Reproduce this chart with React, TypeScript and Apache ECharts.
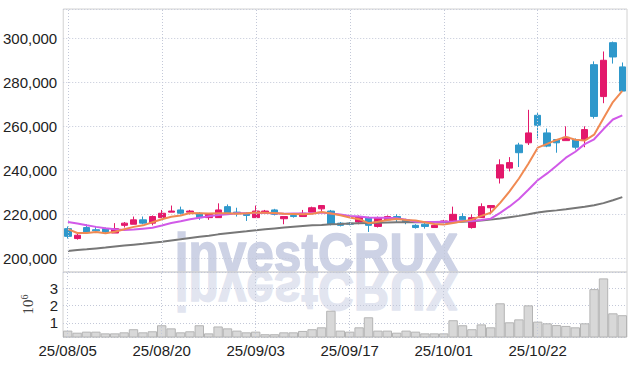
import React, { useEffect, useRef } from 'react';
import * as echarts from 'echarts';

const dates = [
  '25/08/05', '25/08/06', '25/08/07', '25/08/08', '25/08/11', '25/08/12', '25/08/13', '25/08/14', '25/08/18', '25/08/19',
  '25/08/20', '25/08/21', '25/08/22', '25/08/25', '25/08/26', '25/08/27', '25/08/28', '25/08/29', '25/09/01', '25/09/02',
  '25/09/03', '25/09/04', '25/09/05', '25/09/08', '25/09/09', '25/09/10', '25/09/11', '25/09/12', '25/09/15', '25/09/16',
  '25/09/17', '25/09/18', '25/09/19', '25/09/22', '25/09/23', '25/09/24', '25/09/25', '25/09/26', '25/09/29', '25/09/30',
  '25/10/01', '25/10/02', '25/10/10', '25/10/13', '25/10/14', '25/10/15', '25/10/16', '25/10/17', '25/10/20', '25/10/21',
  '25/10/22', '25/10/23', '25/10/24', '25/10/27', '25/10/28', '25/10/29', '25/10/30', '25/10/31', '25/11/03', '25/11/04',
];

const opens = [
  213500, 209000, 214000, 213000, 213500, 211500, 215000, 215500, 217500, 216000,
  218500, 221000, 222000, 221000, 220500, 218500, 218500, 223500, 221000, 220500,
  218500, 221000, 222000, 218000, 219500, 219000, 221000, 222500, 221500, 216000,
  216000, 216500, 218500, 214500, 217500, 219000, 217500, 215000, 215500, 214000,
  216500, 216500, 219000, 214000, 218500, 223000, 236500, 241000, 251500, 252500,
  265000, 257000, 254000, 253500, 254000, 254000, 288000, 273500, 298000, 287000,
];
const closes = [
  210000, 210500, 212000, 212500, 212000, 213500, 216000, 217500, 216000, 219000,
  220500, 221500, 220500, 221500, 218500, 220000, 222000, 220500, 220500, 219500,
  221500, 221500, 220000, 219000, 219000, 220500, 223000, 224000, 215500, 215000,
  215500, 219000, 215000, 218500, 219000, 218000, 216500, 214000, 214500, 215000,
  217000, 220000, 217500, 218500, 223500, 224000, 242500, 243500, 248000, 257000,
  260500, 251000, 252500, 255000, 250500, 258500, 264500, 290000, 291500, 276000,
];
const lows = [
  209000, 208500, 211500, 211500, 211500, 211500, 214000, 215500, 215500, 215000,
  218500, 221000, 220000, 220000, 217500, 217500, 218500, 220000, 219000, 217000,
  218500, 220500, 219500, 215500, 218500, 219000, 221000, 221000, 215000, 214500,
  215000, 215500, 212000, 214000, 217000, 216500, 215500, 213500, 213500, 214000,
  216000, 216500, 217000, 213500, 218500, 220000, 234000, 239500, 241500, 251500,
  254500, 250500, 248000, 253500, 249500, 250500, 263500, 270500, 288500, 276000,
];
const highs = [
  214500, 211500, 215500, 214500, 214000, 216000, 216500, 219000, 219000, 219500,
  222000, 224000, 223500, 222000, 221000, 220500, 225000, 224500, 223000, 221000,
  224000, 222000, 222500, 219000, 220000, 222000, 223500, 224000, 222000, 216500,
  216500, 219500, 219000, 219000, 219500, 220000, 218000, 215500, 216000, 215500,
  217500, 223500, 220500, 220000, 225000, 224000, 245000, 246000, 252500, 267500,
  266000, 259000, 254000, 260000, 254500, 260000, 289500, 294000, 298500, 289000,
];

const volumes = [
  560000, 440000, 500000, 500000, 400000, 400000, 460000, 640000, 460000, 520000,
  870000, 690000, 460000, 520000, 870000, 400000, 800000, 690000, 560000, 460000,
  500000, 350000, 350000, 460000, 460000, 540000, 640000, 750000, 1710000, 560000,
  500000, 750000, 1330000, 560000, 560000, 440000, 560000, 500000, 400000, 400000,
  400000, 1160000, 870000, 640000, 920000, 750000, 2140000, 1040000, 1210000, 2020000,
  1080000, 980000, 880000, 830000, 750000, 980000, 2960000, 3580000, 1560000, 1450000,
];

const ma5 = [
  213300, 211500, 211500, 212000, 211400, 212100, 213200, 214300, 215000, 216400,
  217800, 218900, 219500, 220600, 220500, 220400, 220500, 220500, 220300, 220500,
  220800, 220700, 220600, 220300, 220200, 220000, 220300, 221100, 220400, 219600,
  218600, 217800, 216000, 216600, 217400, 217900, 217400, 217200, 216400, 215600,
  215400, 216100, 216800, 217600, 219300, 220700, 225200, 230400, 236300, 243000,
  250300, 252000, 253800, 255200, 253900, 253500, 256200, 263700, 271000, 276100,
];
const ma10 = [
  216500, 215800, 215000, 214300, 213700, 213200, 212900, 213100, 213500, 213900,
  214950, 216050, 216900, 217800, 218450, 219100, 219700, 220000, 220450, 220500,
  220600, 220600, 220550, 220300, 220350, 220400, 220500, 220850, 220350, 219900,
  219300, 219050, 218550, 218500, 218500, 218250, 217600, 216600, 216500, 216500,
  216650, 216750, 217000, 217000, 217450, 218050, 220650, 223600, 226950, 231150,
  235500, 238600, 242100, 245750, 248450, 251900, 254100, 258750, 263100, 265000,
];
const ma60 = [
  203300, 203800, 204100, 204500, 204900, 205400, 205800, 206200, 206600, 207100,
  207500, 208100, 208700, 209300, 209800, 210300, 210900, 211400, 211900, 212300,
  212800, 213200, 213600, 214000, 214400, 214700, 215000, 215200, 215500, 215600,
  215800, 216000, 216100, 216200, 216300, 216400, 216400, 216400, 216400, 216400,
  216400, 216400, 216600, 216900, 217200, 217600, 218100, 218700, 219300, 220000,
  220800, 221400, 221800, 222300, 222900, 223400, 224100, 225100, 226400, 227800,
];

const labelDates = ['25/08/05', '25/08/20', '25/09/03', '25/09/17', '25/10/01', '25/10/22'];

const UP = '#e3186b';
const DOWN = '#2e98cb';
const FONT = '"Liberation Sans Narrow", "Arial Narrow", "Liberation Sans", sans-serif';
const GRID_LINE = { color: '#c3c8d8', type: [1, 2], width: 1 };
const WM_FONT = '"Liberation Sans", Arial, sans-serif';

export default function App() {
  const ref = useRef<HTMLDivElement>(null);
  useEffect(() => {
    if (!ref.current) return;
    const chart = echarts.init(ref.current, undefined, { renderer: 'svg' });
    const candles = dates.map((_, i) => [opens[i], closes[i], lows[i], highs[i]]);
    const vMark = {
      silent: true,
      symbol: ['none', 'none'],
      label: { show: false },
      lineStyle: GRID_LINE,
      animation: false,
      emphasis: { disabled: true },
      data: labelDates.map((d) => ({ xAxis: d })),
    };
    chart.setOption({
      animation: false,
      grid: [
        { left: 63, right: 10, top: 9, height: 263, show: true, borderColor: '#d2d2d2', borderWidth: 1 },
        { left: 63, right: 10, top: 272, height: 65, show: true, borderColor: '#d2d2d2', borderWidth: 1 },
      ],
      xAxis: [
        {
          type: 'category', gridIndex: 0, data: dates, boundaryGap: true,
          axisLine: { show: false }, axisTick: { show: false }, axisLabel: { show: false }, splitLine: { show: false },
        },
        {
          type: 'category', gridIndex: 1, data: dates, boundaryGap: true,
          axisLine: { show: false }, axisTick: { show: false }, splitLine: { show: false },
          axisLabel: { interval: 9, fontFamily: FONT, fontSize: 15, color: '#222', margin: 6 },
        },
      ],
      yAxis: [
        {
          type: 'value', gridIndex: 0, min: 193800, max: 313300, scale: true,
          axisLine: { show: false }, axisTick: { show: false },
          splitLine: { lineStyle: GRID_LINE },
          axisLabel: {
            showMinLabel: false, showMaxLabel: false, fontFamily: FONT, fontSize: 15, color: '#222', margin: 6,
            formatter: (v: number) => (v % 20000 === 0 ? v.toLocaleString('en-US') : ''),
          },
        },
        {
          type: 'value', gridIndex: 1, min: 190000, max: 3950000,
          axisLine: { show: false }, axisTick: { show: false },
          splitLine: { lineStyle: GRID_LINE },
          axisLabel: {
            showMinLabel: false, showMaxLabel: false, fontFamily: FONT, fontSize: 15, color: '#222', margin: 5,
            formatter: (v: number) => (v % 1000000 === 0 && v > 0 ? String(v / 1000000) : ''),
          },
          name: '{a|10}{b|6}',
          nameLocation: 'middle',
          nameRotate: 90,
          nameGap: 26,
          nameTextStyle: {
            rich: {
              a: { fontFamily: '"Liberation Serif", "DejaVu Serif", serif', fontSize: 15, color: '#444', lineHeight: 18 },
              b: { fontFamily: '"Liberation Serif", "DejaVu Serif", serif', fontSize: 10, color: '#444', verticalAlign: 'top', lineHeight: 18 },
            },
          },
        },
      ],
      graphic: [
        {
          type: 'text', x: 316.5, y: 272, scaleX: 0.885, scaleY: -1, z: -10, silent: true,
          style: {
            text: 'investCRUX', x: 0, y: -19.4, fill: '#e2e5f0',
            fontFamily: WM_FONT, fontSize: 56, fontWeight: 'bold', stroke: '#e2e5f0', lineWidth: 1.5,
            align: 'center', verticalAlign: 'middle',
          },
        },
        {
          type: 'text', x: 316.5, y: 272, scaleX: 0.885, z: -10, silent: true,
          style: {
            text: 'investCRUX', x: 0, y: -19.4, fill: '#cdd2e5',
            fontFamily: WM_FONT, fontSize: 56, fontWeight: 'bold', stroke: '#cdd2e5', lineWidth: 1.5,
            align: 'center', verticalAlign: 'middle',
          },
        },
      ],
      series: [
        {
          type: 'candlestick', xAxisIndex: 0, yAxisIndex: 0, data: candles, barWidth: 7,
          itemStyle: { color: UP, color0: DOWN, borderColor: UP, borderColor0: DOWN, borderWidth: 1 },
          markLine: vMark,
        },
        {
          type: 'line', xAxisIndex: 0, yAxisIndex: 0, data: ma60, symbol: 'none',
          lineStyle: { color: '#777777', width: 2 },
        },
        {
          type: 'line', xAxisIndex: 0, yAxisIndex: 0, data: ma10, symbol: 'none',
          lineStyle: { color: '#d15ae8', width: 2 },
        },
        {
          type: 'line', xAxisIndex: 0, yAxisIndex: 0, data: ma5, symbol: 'none',
          lineStyle: { color: '#f08a52', width: 2 },
        },
        {
          type: 'bar', xAxisIndex: 1, yAxisIndex: 1, data: volumes, barCategoryGap: '0%',
          itemStyle: { color: '#d8d8d8', borderColor: '#b4b4b4', borderWidth: 1 },
          markLine: vMark,
        },
      ],
    });
    return () => chart.dispose();
  }, []);
  return <div ref={ref} style={{ position: 'absolute', left: 0, top: 0, width: 637, height: 366 }} />;
}
